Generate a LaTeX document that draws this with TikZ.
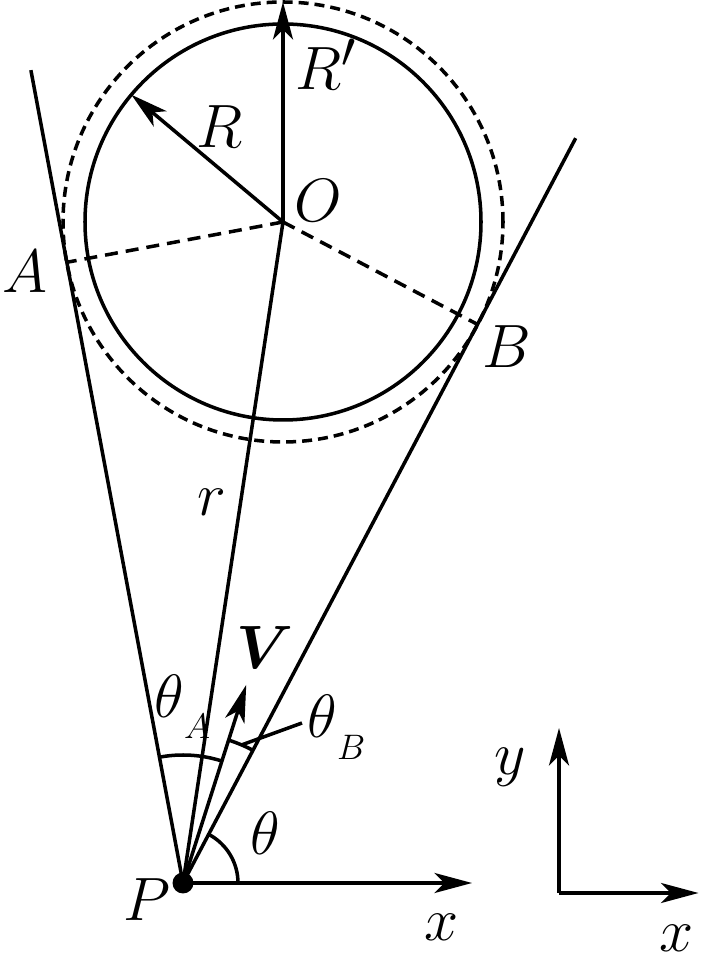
\documentclass[tikz,border=0pt]{standalone}
\usepackage{amsmath}
\usetikzlibrary{arrows.meta,calc,positioning}

\begin{document}
\begin{tikzpicture}[font=\fontsize{24.88}{28}\selectfont,line width=2pt,
		vec/.style={-{Stealth[length=7.5mm,width=4mm,inset=2mm]}},
		lbl/.style={inner sep=0pt,scale=1.4}]
		\useasboundingbox (0,0) rectangle (14,19.46);

		% points
		\coordinate (P) at (3.66,1.80);
		\coordinate (O) at (5.66,15.02);
		\coordinate (A) at ($(P)+(100.6:12.63)$);
		\coordinate (B) at ($(P)+(62.2:12.63)$);
		\coordinate (Aend) at ($(P)+(100.6:16.54)$);
		\coordinate (Bend) at ($(P)+(62.2:16.84)$);
		\coordinate (Vtip) at ($(P)+(72.3:4.16)$);
		\coordinate (xtip) at ($(P)+(5.78,0)$);
		\coordinate (Rtip) at ($(O)+(140:3.96)$);
		\coordinate (Rptip) at ($(O)+(0,4.40)$);
		\coordinate (lead) at ($(P)+(67:3.0)$);
		\coordinate (origin) at (11.18,1.60);
		\coordinate (ytip2) at (11.18,4.90);
		\coordinate (xtip2) at (13.97,1.60);

		% circles
		\draw (O) circle (3.96);
		\draw[dash pattern=on 2mm off 1.2mm] (O) circle (4.40);

		% lines
		\draw (P) -- (Aend);
		\draw (P) -- (Bend);
		\draw (P) -- (O);
		\draw[dash pattern=on 2.6mm off 1.6mm] (O) -- (A);
		\draw[dash pattern=on 2.6mm off 1.6mm] (O) -- (B);
		\draw[vec] (O) -- (Rtip);
		\draw[vec] (O) -- (Rptip);
		\draw[vec] (P) -- (Vtip);
		\draw[vec] (P) -- (xtip);
		\fill (P) circle (0.21);

		% angles
		\draw ([shift={(0:1.1)}]P) arc[start angle=0,end angle=62.2,radius=1.1];
		\draw ([shift={(72.3:2.56)}]P) arc[start angle=72.3,end angle=100.6,radius=2.56];
		\draw ([shift={(62.2:3.0)}]P) arc[start angle=62.2,end angle=72.3,radius=3.0];
		\coordinate (thBlead) at (6.04,5.00);
		\draw (lead) -- (thBlead);

		% axes
		\draw[vec] (origin) -- (ytip2);
		\draw[vec] (origin) -- (xtip2);

		% labels
		\node[lbl] (labO) at (6.36,15.44) {$O$};
		\node[lbl] (labR) at (4.40,16.92) {$R$};
		\node[lbl,anchor=base west] (labRp) at (5.86,17.66) {$R'$};
		\node[lbl] (labA) at (0.50,14.02) {$A$};
		\node[lbl] (labB) at (10.14,12.52) {$B$};
		\node[lbl] (labr) at (4.24,9.42) {$r$};
		\node[lbl] (labV) at (5.30,6.50) {$\boldsymbol{V}$};
		\node[lbl] (labP) at (2.94,1.46) {$P$};
		\node[lbl] (labx) at (8.84,0.92) {$x$};
		\node[lbl] (laby2) at (10.20,4.12) {$y$};
		\node[lbl] (labx2) at (13.54,0.70) {$x$};
		\node[lbl,anchor=base west] (labthA) at (3.04,5.10) {$\theta$\raisebox{-0.29cm}{\fontsize{14.4}{16}\selectfont$A$}};
		\node[lbl,anchor=base west] (labthB) at (6.10,4.70) {$\theta$\raisebox{-0.31cm}{\fontsize{14.4}{16}\selectfont$B$}};
		\node[lbl,anchor=base west] (labth) at (4.96,2.36) {$\theta$};
	\end{tikzpicture}
\end{document}
